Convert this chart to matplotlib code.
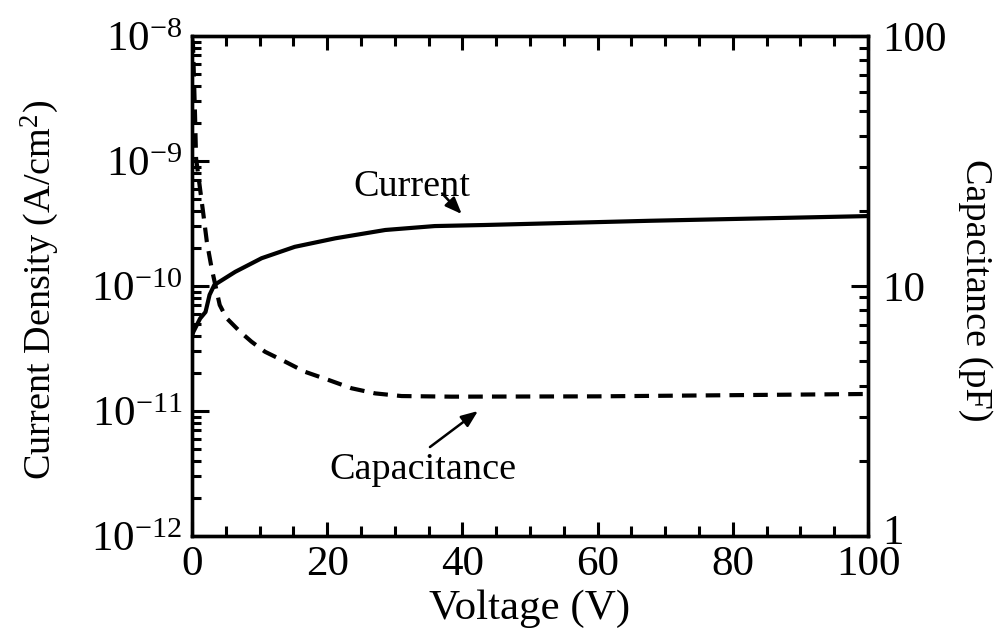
import numpy as np
import matplotlib
matplotlib.use("Agg")
import matplotlib.pyplot as plt
import matplotlib.transforms as mtransforms
from matplotlib.ticker import MultipleLocator, LogLocator, FixedLocator, FuncFormatter, NullFormatter

plt.rcParams['font.family'] = ['Liberation Serif', 'DejaVu Serif']
plt.rcParams['mathtext.fontset'] = 'custom'
plt.rcParams['mathtext.rm'] = 'Liberation Serif'
plt.rcParams['mathtext.it'] = 'Liberation Serif:italic'

# leakage current density vs bias (A/cm^2)
volt_j = [0.0, 0.2, 1.2, 2.0, 2.6, 3.3, 6.4, 10.3, 15.2, 21.2, 28.6, 35.9, 43.3, 67.8, 100.0]
current = [4.0e-11, 4.3e-11, 5.5e-11, 6.2e-11, 8.5e-11, 1.02e-10, 1.30e-10, 1.67e-10,
           2.06e-10, 2.41e-10, 2.81e-10, 3.02e-10, 3.08e-10, 3.33e-10, 3.63e-10]

# capacitance vs bias (pF)
volt_c = [0.0, 0.15, 0.45, 0.6, 1.7, 2.2, 2.9, 4.1, 5.1, 7.1, 8.8, 10.8, 13.8, 16.7,
          20.2, 23.6, 27.1, 31.0, 38.4, 60.0, 100.0]
capacitance = [98, 92, 48, 32.5, 19.2, 15.0, 11.8, 8.4, 7.45, 6.57, 5.99, 5.46, 4.98, 4.54,
               4.21, 3.90, 3.72, 3.63, 3.61, 3.62, 3.70]

FS_TICK = 31
FS_XLABEL = 31
FS_LABEL = 27.5

fig = plt.figure(figsize=(10, 6.28), dpi=100)
ax = fig.add_axes([0.192, 0.1465, 0.676, 0.796])
ax2 = ax.twinx()

ax.plot(volt_j, current, color='k', lw=3.0, solid_joinstyle='round')
ax2.plot(volt_c, capacitance, color='k', lw=3.0, linestyle=(0, (3.5, 2.2)))

ax.set_xlim(0, 100)
ax.set_yscale('log')
ax.set_ylim(1e-12, 1e-8)
ax2.set_yscale('log')
ax2.set_ylim(1, 100)

ax.xaxis.set_major_locator(MultipleLocator(20))
ax.xaxis.set_minor_locator(MultipleLocator(5))
ax.yaxis.set_major_locator(LogLocator(base=10, numticks=10))
ax.yaxis.set_minor_locator(LogLocator(base=10, subs=np.arange(2, 10), numticks=20))
ax.yaxis.set_minor_formatter(NullFormatter())

ax2.yaxis.set_major_locator(FixedLocator([1, 10, 100]))
ax2.yaxis.set_major_formatter(FuncFormatter(lambda v, p: f"{v:g}"))
ax2.yaxis.set_minor_locator(LogLocator(base=10, subs=np.arange(2, 10), numticks=20))
ax2.yaxis.set_minor_formatter(NullFormatter())

ax.tick_params(axis='x', which='both', direction='in', top=True, labelsize=FS_TICK,
               width=2.2, pad=7)
ax.tick_params(axis='x', which='major', length=10)
ax.tick_params(axis='x', which='minor', length=7)
ax.tick_params(axis='y', which='both', direction='in', labelsize=FS_TICK, width=2.2, pad=7)
ax.tick_params(axis='y', which='major', length=12)
ax.tick_params(axis='y', which='minor', length=6.5)
ax2.tick_params(axis='y', which='both', direction='in', labelsize=FS_TICK, width=2.2, pad=10)
ax2.tick_params(axis='y', which='major', length=12)
ax2.tick_params(axis='y', which='minor', length=6.5)

for a in (ax, ax2):
    for sp in a.spines.values():
        sp.set_linewidth(2.4)

# corner labels sit tight: pull the last x label left and the bottom right label up a bit
fig.canvas.draw()
xlabels = ax.get_xticklabels()
xlabels[-1].set_transform(xlabels[-1].get_transform() +
                          mtransforms.ScaledTranslation(-6 / 72, 0, fig.dpi_scale_trans))
rlabels = ax2.get_yticklabels()
rlabels[0].set_transform(rlabels[0].get_transform() +
                         mtransforms.ScaledTranslation(0, 5 / 72, fig.dpi_scale_trans))

fig.text(0.530, 0.030, "Voltage (V)", fontsize=FS_XLABEL, ha='center', va='center')
fig.text(0.040, 0.538, "Current Density (A/cm$^2$)", fontsize=FS_LABEL,
         rotation=90, ha='center', va='center')
fig.text(0.975, 0.538, "Capacitance (pF)", fontsize=FS_LABEL,
         rotation=270, ha='center', va='center')

# curve labels with arrows
arrow_style = dict(arrowstyle='-|>,head_length=1.0,head_width=0.4',
                   color='k', lw=1.8, shrinkA=0, shrinkB=0)
ax.text(32.5, 6.2e-10, "Current", fontsize=FS_LABEL, ha='center', va='center')
ax.annotate("", xy=(39.9, 3.77e-10), xytext=(37.0, 5.5e-10), arrowprops=arrow_style)
ax.text(34.2, 3.4e-12, "Capacitance", fontsize=FS_LABEL, ha='center', va='center')
ax.annotate("", xy=(42.3, 1.0e-11), xytext=(35.2, 5.15e-12), arrowprops=arrow_style)

fig.savefig("out.png", dpi=100)
